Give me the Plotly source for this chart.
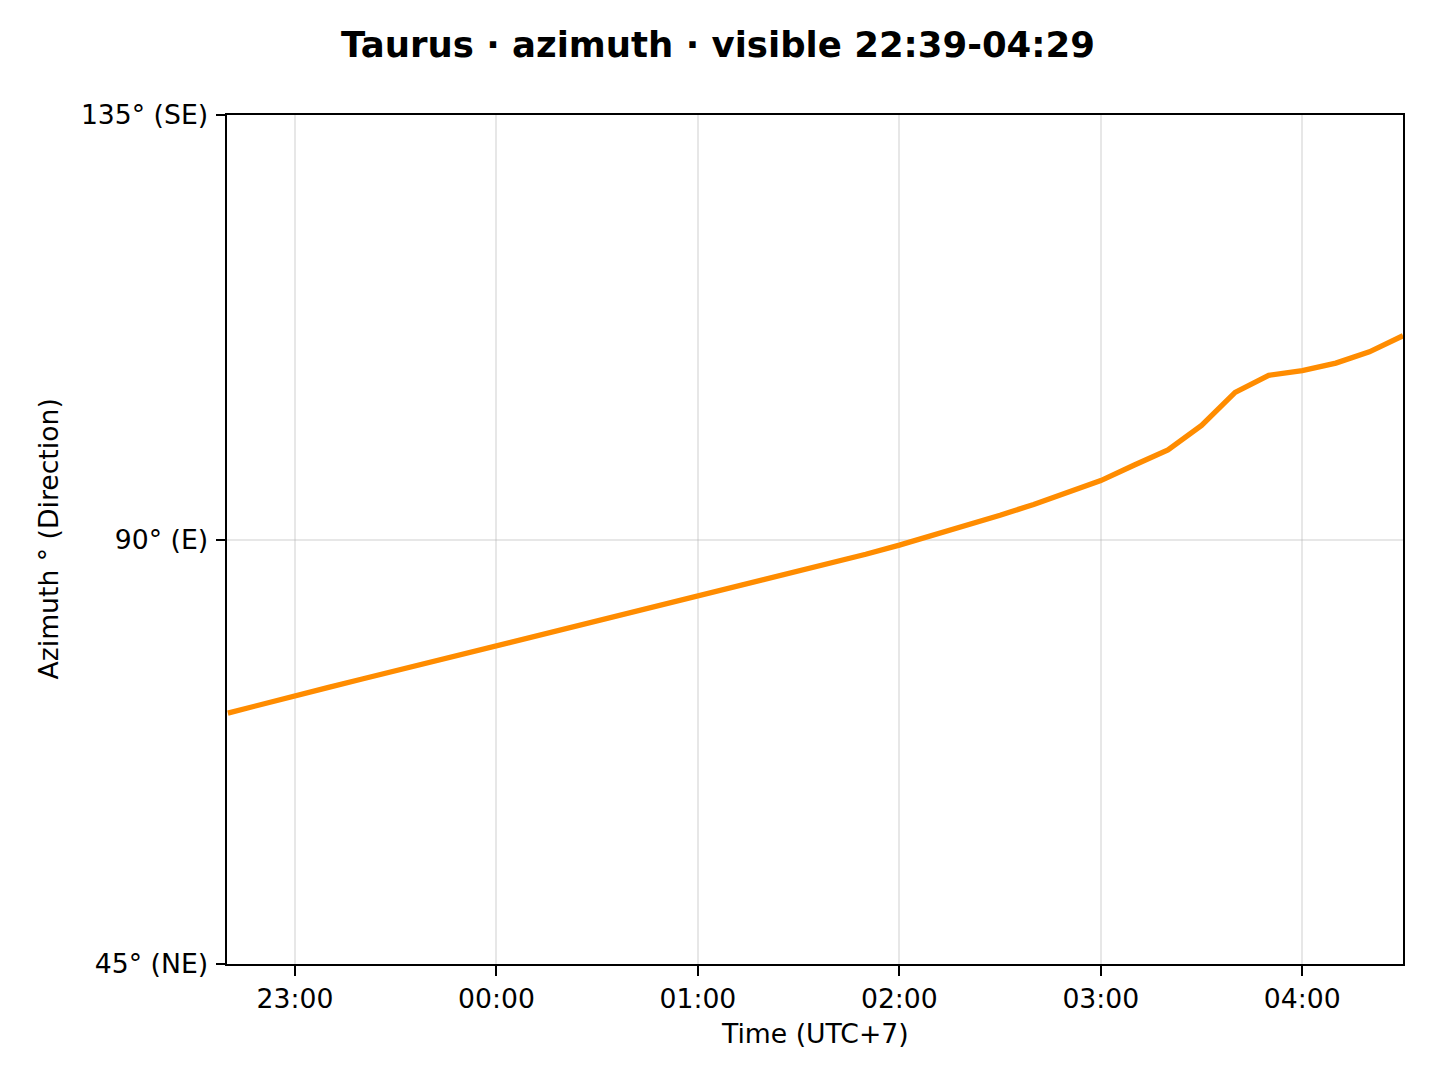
import plotly.graph_objects as go

title_text = "Taurus · azimuth · visible 22:39-04:29"
x_label = "Time (UTC+7)"
y_label = "Azimuth ° (Direction)"

times = [
    "2024-01-01 22:40", "2024-01-01 22:50",
    "2024-01-01 23:00", "2024-01-01 23:10", "2024-01-01 23:20", "2024-01-01 23:30", "2024-01-01 23:40", "2024-01-01 23:50",
    "2024-01-02 00:00", "2024-01-02 00:10", "2024-01-02 00:20", "2024-01-02 00:30", "2024-01-02 00:40", "2024-01-02 00:50",
    "2024-01-02 01:00", "2024-01-02 01:10", "2024-01-02 01:20", "2024-01-02 01:30", "2024-01-02 01:40", "2024-01-02 01:50",
    "2024-01-02 02:00", "2024-01-02 02:10", "2024-01-02 02:20", "2024-01-02 02:30", "2024-01-02 02:40", "2024-01-02 02:50",
    "2024-01-02 03:00", "2024-01-02 03:10", "2024-01-02 03:20", "2024-01-02 03:30", "2024-01-02 03:40", "2024-01-02 03:50",
    "2024-01-02 04:00", "2024-01-02 04:10", "2024-01-02 04:20", "2024-01-02 04:30",
]
azimuth = [
    71.6, 72.55,
    73.45, 74.33, 75.21, 76.09, 76.97, 77.85,
    78.73, 79.6, 80.46, 81.32, 82.19, 83.06,
    83.93, 84.8, 85.69, 86.59, 87.5, 88.43,
    89.4, 90.42, 91.47, 92.57, 93.72, 94.93,
    96.25, 97.9, 99.5, 102.1, 105.6, 107.4,
    107.9, 108.7, 109.9, 111.6,
]

x_range = ["2024-01-01 22:39:45", "2024-01-02 04:30"]
x_ticks = ["2024-01-01 23:00", "2024-01-02 00:00", "2024-01-02 01:00",
           "2024-01-02 02:00", "2024-01-02 03:00", "2024-01-02 04:00"]
x_tick_labels = ["23:00", "00:00", "01:00", "02:00", "03:00", "04:00"]
y_ticks = [45, 90, 135]
y_tick_labels = ["45° (NE)", "90° (E)", "135° (SE)"]

FONT = "DejaVu Sans"
W, H = 1440, 1080
OFF = 8  # page body margin
L, T = 227 - OFF, 115 - OFF
pw, ph = 1176, 849
R, B = W - L - pw, H - T - ph

fig = go.Figure()
fig.add_trace(go.Scatter(
    x=times, y=azimuth, mode="lines",
    line=dict(color="#FF8C00", width=5.3),
    showlegend=False, hoverinfo="skip",
))

axis_common = dict(
    showline=True, linecolor="black", linewidth=2, mirror=True,
    ticks="outside", ticklen=9.5, tickwidth=2, tickcolor="black",
    showgrid=True, gridcolor="rgba(176,176,176,0.3)", gridwidth=2,
    zeroline=False,
    tickfont=dict(family=FONT, size=26.67, color="black"),
)

fig.update_xaxes(
    range=x_range, tickvals=x_ticks, ticktext=x_tick_labels,
    ticklabelstandoff=0, **axis_common,
)
fig.update_yaxes(
    range=[45, 135], tickvals=y_ticks, ticktext=y_tick_labels,
    ticklabelstandoff=2, **axis_common,
)

fig.update_layout(
    width=W, height=H, autosize=False,
    margin=dict(l=L, r=R, t=T, b=B, autoexpand=False),
    paper_bgcolor="white", plot_bgcolor="white",
    title=dict(
        text="<b>" + title_text + "</b>",
        x=(718 - OFF) / W, xref="container", xanchor="center",
        y=1 - (45 - OFF) / H, yref="container", yanchor="middle",
        font=dict(family=FONT, size=35.5, color="black"),
    ),
    annotations=[
        dict(text=x_label, xref="paper", yref="paper",
             x=0.5, y=-(1033 - 964) / ph, xanchor="center", yanchor="middle",
             showarrow=False, font=dict(family=FONT, size=26.67, color="black")),
        dict(text=y_label, xref="paper", yref="paper",
             x=(48 - 227) / pw, y=0.5, xanchor="center", yanchor="middle", textangle=-90,
             showarrow=False, font=dict(family=FONT, size=26.67, color="black")),
    ],
)

fig.write_html("out.html")
